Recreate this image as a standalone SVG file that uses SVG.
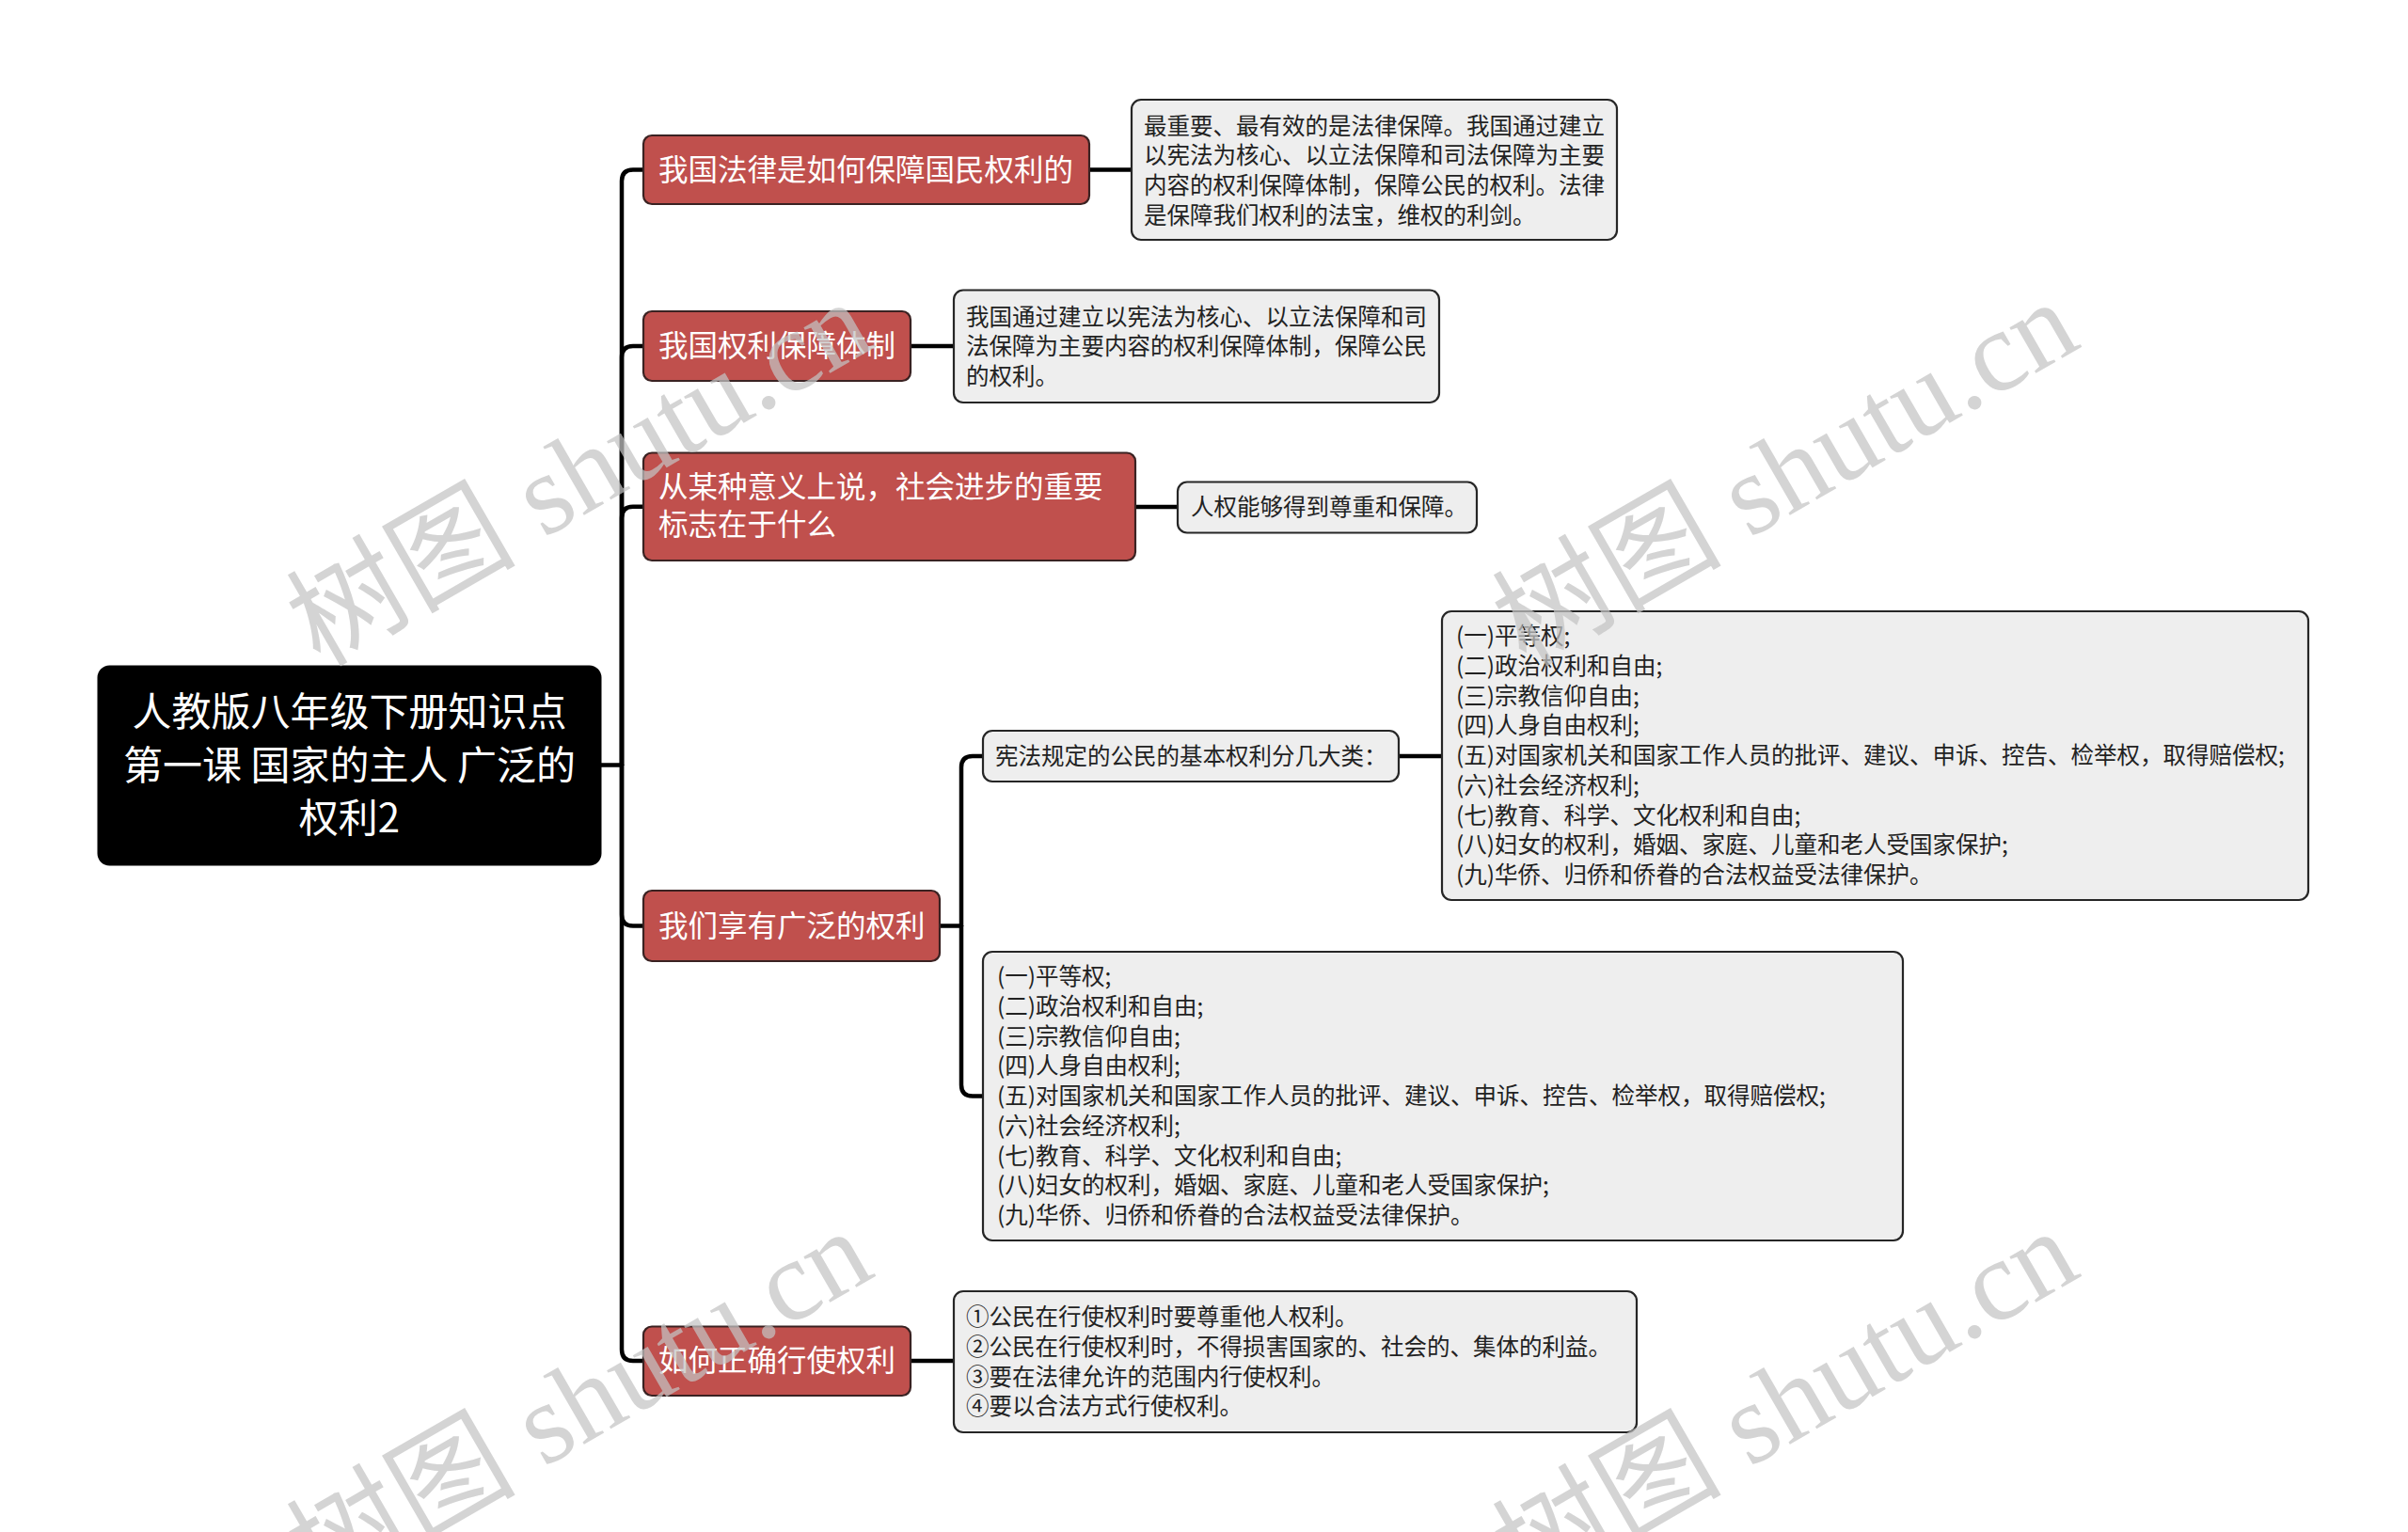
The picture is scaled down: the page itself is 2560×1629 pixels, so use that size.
<svg xmlns="http://www.w3.org/2000/svg" width="2560" height="1629" viewBox="0 0 2560 1629">
<style>
.bg{fill:#ffffff}
.conn path{fill:none;stroke:#000;stroke-width:4.5;stroke-linecap:round;stroke-linejoin:round}
.root rect{fill:#000;stroke:#000;stroke-width:2}
.root text{fill:#fff;font-family:"Noto Sans CJK SC",sans-serif;font-size:42px;text-anchor:middle}
.l1 rect{fill:#c0504d;stroke:#3a2222;stroke-width:2.2}
.l1 text{fill:#fff;font-family:"Noto Sans CJK SC",sans-serif;font-size:31.5px}
.leaf rect{fill:#eeeeee;stroke:#262626;stroke-width:2.2}
.leaf text{fill:#222;font-family:"Noto Sans CJK SC",sans-serif;font-size:24.5px}
.wm text{fill:#c4c4c4;opacity:0.72;font-family:"Liberation Serif","Noto Sans CJK SC",serif;font-size:122px}
</style>
<rect class="bg" x="0" y="0" width="2560" height="1629"/>

<g id="connectors" class="conn">
<path d="M638.5,813.5 H661"/>
<path d="M661,813.5 V192.5 Q661,180.5 673,180.5 H684"/>
<path d="M661,813.5 V380 Q661,368 673,368 H684"/>
<path d="M661,813.5 V550.7 Q661,538.7 673,538.7 H684"/>
<path d="M661,813.5 V972.5 Q661,984.5 673,984.5 H684"/>
<path d="M661,813.5 V1435 Q661,1447 673,1447 H684"/>
<path d="M1158,180.5 H1203"/>
<path d="M968,368 H1014"/>
<path d="M1207,539 H1252"/>
<path d="M999,984.5 H1022"/>
<path d="M1022,984.5 V816 Q1022,804 1034,804 H1045"/>
<path d="M1022,984.5 V1153.5 Q1022,1165.5 1034,1165.5 H1045"/>
<path d="M1487,804 H1533"/>
<path d="M968,1447 H1014"/>
</g>

<g id="root" class="root">
<rect x="104.5" y="708.5" width="534" height="211" rx="12"/>
<text x="371.5" y="772">人教版八年级下册知识点</text>
<text x="371.5" y="828.5">第一课 国家的主人 广泛的</text>
<text x="371.5" y="885">权利2</text>
</g>

<g id="n1" class="l1">
<rect x="684" y="144" width="474" height="73" rx="9"/>
<text x="700" y="191.8">我国法律是如何保障国民权利的</text>
</g>
<g id="n2" class="l1">
<rect x="684" y="331" width="284" height="74" rx="9"/>
<text x="700" y="379.3">我国权利保障体制</text>
</g>
<g id="n3" class="l1">
<rect x="684" y="481.5" width="523" height="114.5" rx="9"/>
<text x="700" y="529">从某种意义上说，社会进步的重要</text>
<text x="700" y="569.4">标志在于什么</text>
</g>
<g id="n4" class="l1">
<rect x="684" y="947" width="315" height="75" rx="9"/>
<text x="700" y="995.8">我们享有广泛的权利</text>
</g>
<g id="n5" class="l1">
<rect x="684" y="1410.5" width="284" height="73.5" rx="9"/>
<text x="700" y="1458.3">如何正确行使权利</text>
</g>

<g id="leaf1" class="leaf">
<rect x="1203" y="106" width="516" height="149" rx="10"/>
<text x="1216" y="142.8">最重要、最有效的是法律保障。我国通过建立</text>
<text x="1216" y="174.4">以宪法为核心、以立法保障和司法保障为主要</text>
<text x="1216" y="206">内容的权利保障体制，保障公民的权利。法律</text>
<text x="1216" y="237.6">是保障我们权利的法宝，维权的利剑。</text>
</g>
<g id="leaf2" class="leaf">
<rect x="1014" y="308.5" width="516" height="119.5" rx="10"/>
<text x="1027" y="345.5">我国通过建立以宪法为核心、以立法保障和司</text>
<text x="1027" y="377.1">法保障为主要内容的权利保障体制，保障公民</text>
<text x="1027" y="408.7">的权利。</text>
</g>
<g id="leaf3" class="leaf">
<rect x="1252" y="512.5" width="318" height="54" rx="10"/>
<text x="1266" y="548.3">人权能够得到尊重和保障。</text>
</g>
<g id="leaf4a" class="leaf">
<rect x="1045" y="777" width="442" height="54" rx="10"/>
<text x="1058" y="812.8">宪法规定的公民的基本权利分几大类：</text>
</g>
<g id="leaf4a1" class="leaf">
<rect x="1533" y="650" width="921" height="307" rx="10"/>
<text x="1548" y="685.3">(一)平等权;</text>
<text x="1548" y="717">(二)政治权利和自由;</text>
<text x="1548" y="748.7">(三)宗教信仰自由;</text>
<text x="1548" y="780.4">(四)人身自由权利;</text>
<text x="1548" y="812.1">(五)对国家机关和国家工作人员的批评、建议、申诉、控告、检举权，取得赔偿权;</text>
<text x="1548" y="843.8">(六)社会经济权利;</text>
<text x="1548" y="875.5">(七)教育、科学、文化权利和自由;</text>
<text x="1548" y="907.2">(八)妇女的权利，婚姻、家庭、儿童和老人受国家保护;</text>
<text x="1548" y="938.9">(九)华侨、归侨和侨眷的合法权益受法律保护。</text>
</g>
<g id="leaf4b" class="leaf">
<rect x="1045" y="1012" width="978" height="307" rx="10"/>
<text x="1060" y="1047.3">(一)平等权;</text>
<text x="1060" y="1079">(二)政治权利和自由;</text>
<text x="1060" y="1110.7">(三)宗教信仰自由;</text>
<text x="1060" y="1142.4">(四)人身自由权利;</text>
<text x="1060" y="1174.1">(五)对国家机关和国家工作人员的批评、建议、申诉、控告、检举权，取得赔偿权;</text>
<text x="1060" y="1205.8">(六)社会经济权利;</text>
<text x="1060" y="1237.5">(七)教育、科学、文化权利和自由;</text>
<text x="1060" y="1269.2">(八)妇女的权利，婚姻、家庭、儿童和老人受国家保护;</text>
<text x="1060" y="1300.9">(九)华侨、归侨和侨眷的合法权益受法律保护。</text>
</g>
<g id="leaf5" class="leaf">
<rect x="1014" y="1373" width="726" height="150" rx="10"/>
<text x="1027" y="1409.4">①公民在行使权利时要尊重他人权利。</text>
<text x="1027" y="1441">②公民在行使权利时，不得损害国家的、社会的、集体的利益。</text>
<text x="1027" y="1472.6">③要在法律允许的范围内行使权利。</text>
<text x="1027" y="1504.2">④要以合法方式行使权利。</text>
</g>

<g id="watermarks" class="wm">
<text x="340" y="710" transform="rotate(-30 340 710)">树图 shutu.cn</text>
<text x="1622" y="710" transform="rotate(-30 1622 710)">树图 shutu.cn</text>
<text x="340" y="1698" transform="rotate(-30 340 1698)">树图 shutu.cn</text>
<text x="1622" y="1698" transform="rotate(-30 1622 1698)">树图 shutu.cn</text>
</g>
</svg>
